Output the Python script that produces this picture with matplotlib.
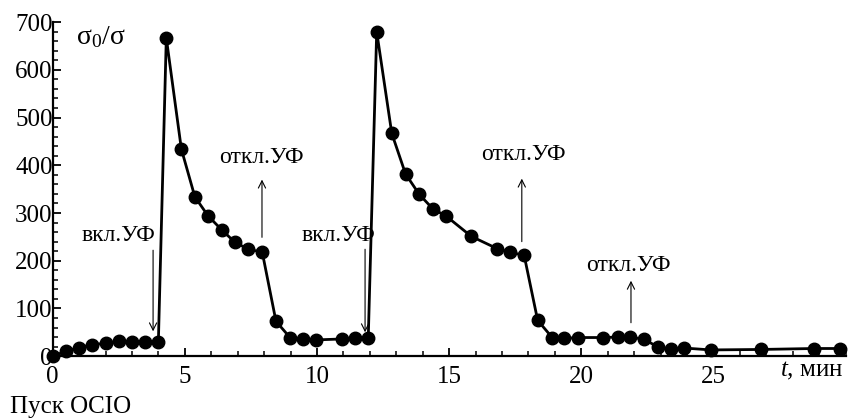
import matplotlib
matplotlib.use("Agg")
import matplotlib.pyplot as plt
from matplotlib.ticker import MultipleLocator, FixedLocator

plt.rcParams['font.family'] = ['Liberation Serif', 'DejaVu Serif']
plt.rcParams['mathtext.fontset'] = 'custom'
plt.rcParams['mathtext.rm'] = 'Liberation Serif'
plt.rcParams['mathtext.it'] = 'Liberation Serif:italic'

# time, min
t = [0, 0.5, 1.0, 1.5, 2.0, 2.5, 3.0, 3.5, 4.0,
     4.3, 4.87, 5.38, 5.88, 6.39, 6.89, 7.4, 7.93, 8.45, 8.98, 9.46, 9.96,
     10.95, 11.45, 11.94,
     12.26, 12.83, 13.35, 13.87, 14.38, 14.9, 15.84, 16.83, 17.3, 17.84,
     18.35, 18.9, 19.36, 19.86, 20.84, 21.38, 21.86, 22.39, 22.9, 23.4,
     23.9, 24.9, 26.8, 28.8, 29.8]
# sigma0/sigma
s = [0, 10, 18, 24, 27, 31, 30, 30, 30,
     667, 434, 334, 294, 265, 239, 224, 218, 73, 39, 35, 34,
     36, 37, 37,
     680, 467, 382, 339, 309, 293, 251, 225, 218, 211,
     75, 39, 37, 39, 39, 40, 40, 35, 19, 15,
     17, 13, 14, 16, 16]

x_ticks = [0, 5, 10, 15, 20, 25]
y_ticks = [0, 100, 200, 300, 400, 500, 600, 700]

# annotations: (label, text x, text y, arrow x, arrow start, arrow end)
ann_labels = ['вкл.УФ', 'откл.УФ', 'вкл.УФ', 'откл.УФ', 'откл.УФ']
ann_text_x = [2.5, 7.9, 10.8, 17.8, 21.8]
ann_text_y = [230, 395, 230, 400, 168]
ann_arrow_x = [3.8, 7.92, 11.82, 17.75, 21.88]
ann_from = [222, 249, 224, 240, 70]
ann_to = [52, 370, 50, 372, 158]

fig = plt.figure(figsize=(8.49, 4.18), dpi=100)
ax = fig.add_axes([0.062, 0.148, 0.934, 0.799])

ax.plot(t, s, '-o', color='black', lw=2.0, ms=9, clip_on=False, zorder=3)

ax.set_xlim(0, 30)
ax.set_ylim(0, 700)
ax.spines['top'].set_visible(False)
ax.spines['right'].set_visible(False)
ax.spines['left'].set_linewidth(1.6)
ax.spines['bottom'].set_linewidth(1.6)

ax.xaxis.set_major_locator(FixedLocator(x_ticks))
ax.xaxis.set_minor_locator(MultipleLocator(1))
ax.yaxis.set_major_locator(FixedLocator(y_ticks))
ax.yaxis.set_minor_locator(MultipleLocator(20))
ax.tick_params(axis='both', which='major', direction='in', length=6, width=1.3,
               labelsize=18, colors='black')
ax.tick_params(axis='both', which='minor', direction='in', length=3.5, width=1.1)
ax.tick_params(axis='y', pad=0)
ax.tick_params(axis='x', pad=7)

for lab, tx, ty, axx, a0, a1 in zip(ann_labels, ann_text_x, ann_text_y,
                                     ann_arrow_x, ann_from, ann_to):
    ax.text(tx, ty, lab, ha='center', va='bottom', fontsize=17)
    ax.annotate('', xy=(axx, a1), xytext=(axx, a0),
                arrowprops=dict(arrowstyle='->', lw=0.8, color='black',
                                mutation_scale=13, shrinkA=0, shrinkB=0))

ax.text(0.03, 0.995, r'$\mathrm{σ_0/σ}$', transform=ax.transAxes,
        ha='left', va='top', fontsize=20)
ax.text(0.997, -0.012, r'$t$, мин', transform=ax.transAxes,
        ha='right', va='top', fontsize=18)
fig.text(0.012, 0.0, 'Пуск OCIO', ha='left', va='bottom', fontsize=18)

fig.savefig('out.png', dpi=100, facecolor='white')
